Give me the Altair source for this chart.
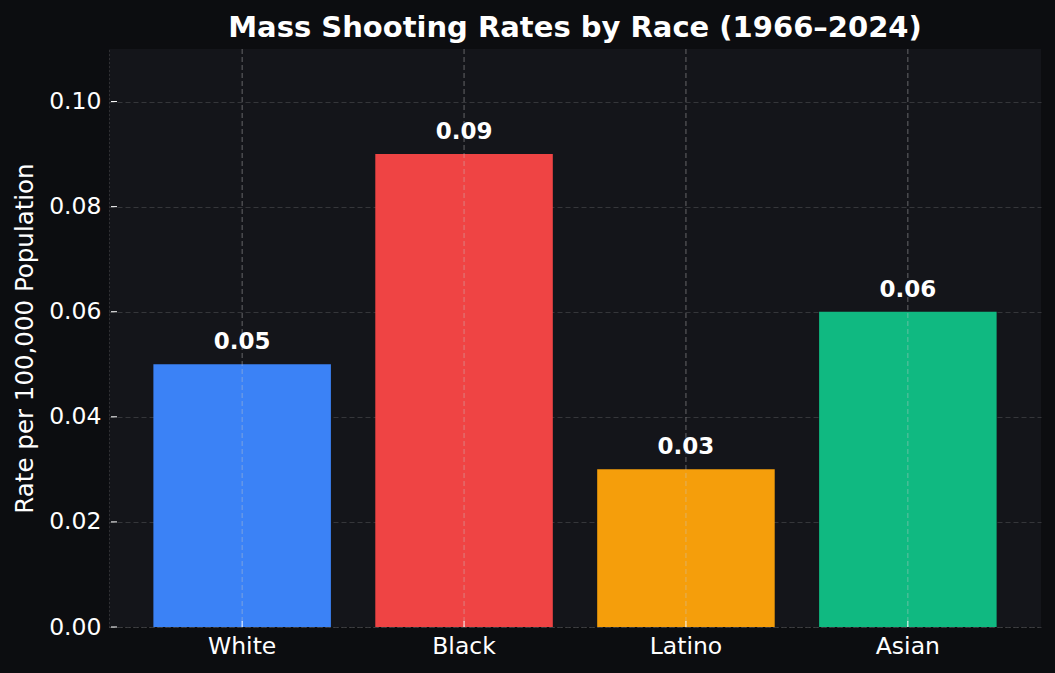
import altair as alt
import pandas as pd

races = ["White", "Black", "Latino", "Asian"]
rates = [0.05, 0.09, 0.03, 0.06]
colors = ["#3b82f6", "#ef4444", "#f59e0b", "#10b981"]
labels = ["0.05", "0.09", "0.03", "0.06"]
y_ticks = [0.0, 0.02, 0.04, 0.06, 0.08, 0.10]

df = pd.DataFrame({"Race": races, "Rate": rates, "Label": labels})
tick_df = pd.DataFrame({"v": y_ticks})

W, H = 932, 578
FONT = "DejaVu Sans"

x_enc = alt.X(
    "Race:N",
    sort=races,
    scale=alt.Scale(paddingInner=0.2, paddingOuter=0.2),
    axis=alt.Axis(
        title=None, labelAngle=0, labelFontSize=23.5, labelColor="#ffffff",
        labelFont=FONT, labelPadding=7, ticks=False, grid=False,
        domainColor="#4a4a4a", domainDash=[1, 3], domainWidth=1,
    ),
)
y_scale = alt.Scale(domain=[0, 0.11], nice=False)

bars = alt.Chart(df).mark_bar().encode(
    x=x_enc,
    y=alt.Y(
        "Rate:Q",
        scale=y_scale,
        axis=alt.Axis(
            title="Rate per 100,000 Population", titleFontSize=24.5,
            titleFontWeight="normal", titleColor="#ffffff", titleFont=FONT,
            titlePadding=11,
            values=y_ticks, format=".2f", labelFontSize=23.5, labelColor="#ffffff",
            labelFont=FONT, labelPadding=8, ticks=False,
            grid=True, gridColor="#35363a", gridDash=[5, 3], gridWidth=1,
            domainColor="#4a4a4a", domainDash=[1, 3], domainWidth=1,
        ),
    ),
    color=alt.Color("Race:N", scale=alt.Scale(domain=races, range=colors), legend=None),
)

text = alt.Chart(df).mark_text(
    dy=-15, baseline="alphabetic", fontSize=23, fontWeight="bold", color="#ffffff", font=FONT
).encode(x=alt.X("Race:N", sort=races), y=alt.Y("Rate:Q", scale=y_scale), text="Label:N")

vgrid = alt.Chart(df).mark_rule(
    strokeDash=[5, 3], color="#c8c8c8", opacity=0.45, strokeWidth=1
).encode(x=alt.X("Race:N", sort=races), y=alt.value(0), y2=alt.value(H))

xticks = alt.Chart(df).mark_rule(color="#ffffff", strokeWidth=1).encode(
    x=alt.X("Race:N", sort=races), y=alt.value(H - 6), y2=alt.value(H)
)

yticks = alt.Chart(tick_df).mark_rule(color="#ffffff", strokeWidth=1).encode(
    y=alt.Y("v:Q", scale=y_scale), x=alt.value(2), x2=alt.value(8)
)

chart = alt.layer(bars, vgrid, text, xticks, yticks).properties(
    width=W,
    height=H,
    autosize=alt.AutoSizeParams(type="none"),
    padding={"left": 109, "top": 49, "right": 14, "bottom": 46},
    background="#0c0d10",
    title=alt.TitleParams(
        "Mass Shooting Rates by Race (1966–2024)", fontSize=29, fontWeight="bold",
        color="#ffffff", font=FONT, anchor="middle", offset=6,
    ),
).configure_view(fill="#14151a", stroke=None)

chart.save("out.html", embed_options={"renderer": "svg", "actions": False})
